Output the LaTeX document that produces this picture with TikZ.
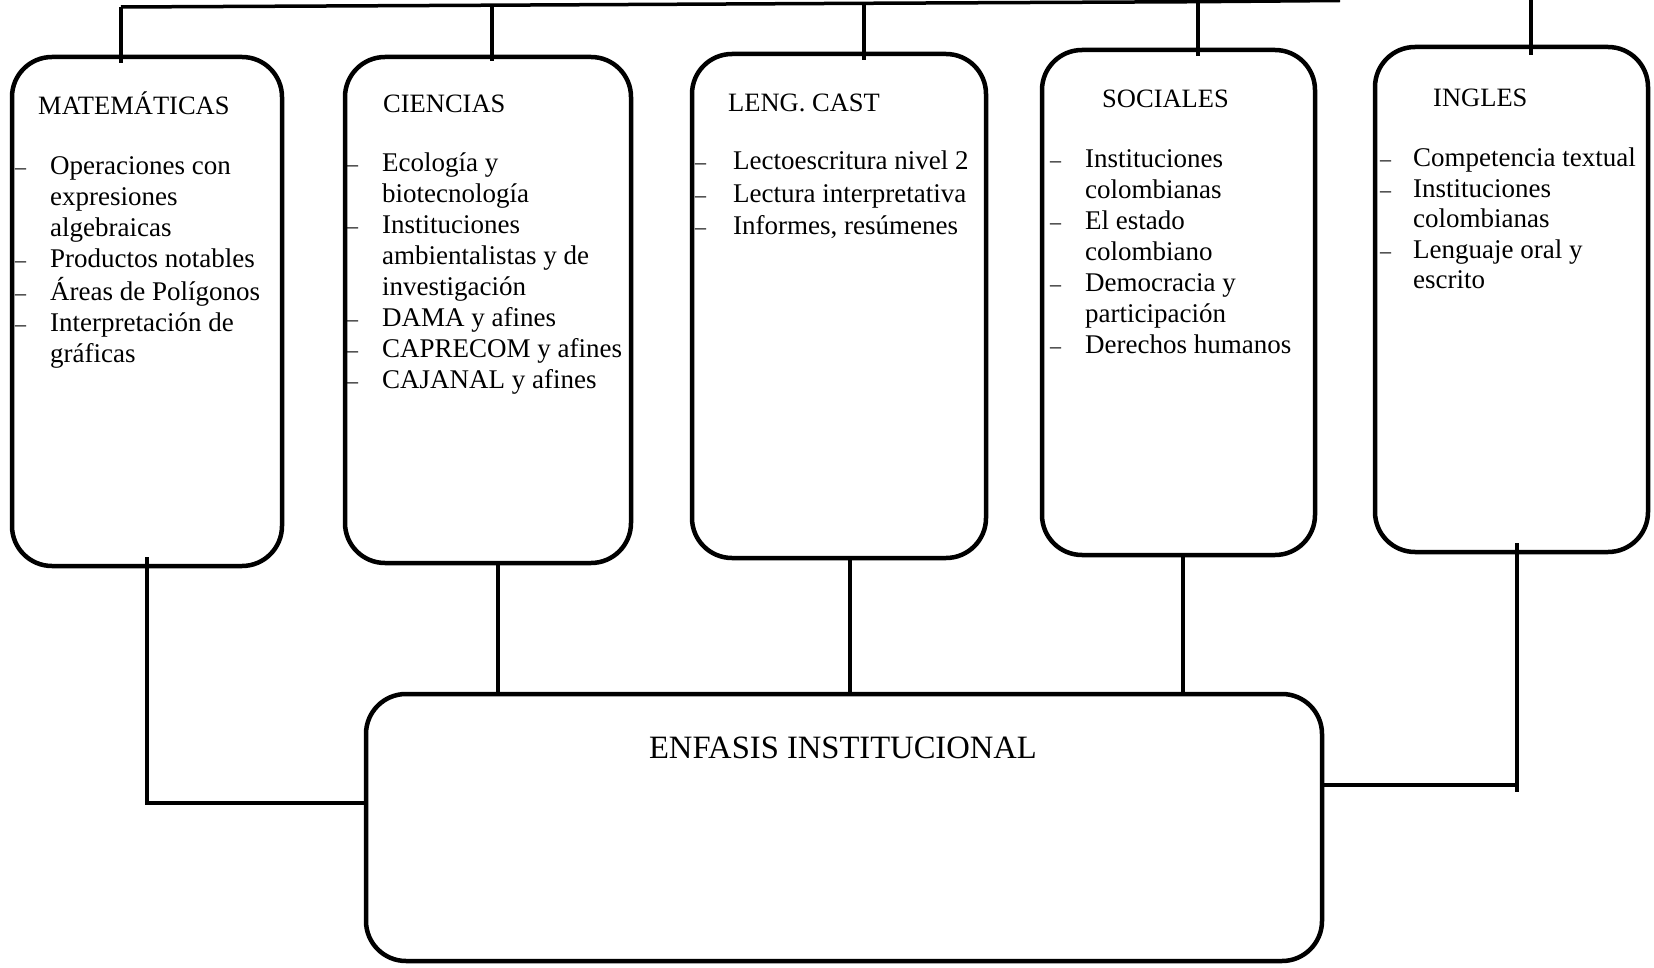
\documentclass[tikz,border=0pt]{standalone}
\usepackage{fontspec}
\setmainfont{Liberation Serif}
\newcommand{\mydash}{{\fontsize{22}{22}\selectfont –}}
\begin{document}
\begin{tikzpicture}[x=1pt,y=-1pt,
  box/.style={draw, line width=4.5pt, rounded corners=40pt, inner sep=0pt, outer sep=0pt},
  conn/.style={line width=4pt},
  bus/.style={line width=3.5pt},
  ttl/.style={anchor=base west, inner sep=0pt, font=\fontsize{26.5}{31}\selectfont},
  lst/.style={anchor=base west, inner sep=0pt, font=\fontsize{27}{31}\selectfont, align=left},
  bigttl/.style={anchor=base, inner sep=0pt, font=\fontsize{32.6}{38}\selectfont}]
\useasboundingbox (0,0) rectangle (1654,968);
\fill[white] (0,0) rectangle (1654,968);

% boxes
\node[box, minimum width=270pt, minimum height=509pt] (mat) at (147,311.5) {};
\node[box, minimum width=286pt, minimum height=506pt] (cie) at (488,310) {};
\node[box, minimum width=294pt, minimum height=504pt] (len) at (839,306) {};
\node[box, minimum width=273pt, minimum height=505pt] (soc) at (1178.5,302.5) {};
\node[box, minimum width=273pt, minimum height=505pt] (ing) at (1511.5,299.5) {};
\node[box, minimum width=956pt, minimum height=267pt] (enf) at (844,827.5) {};

% titles
\node[ttl] (tmat) at (38,115) {MATEMÁTICAS};
\node[ttl] (tcie) at (383,113) {CIENCIAS};
\node[ttl] (tlen) at (728,112) {LENG. CAST};
\node[ttl] (tsoc) at (1102,108) {SOCIALES};
\node[ttl] (ting) at (1433,107) {INGLES};
\node[bigttl] (tenf) at (843,758) {ENFASIS INSTITUCIONAL};

% lists
\node[lst] (lmat) at (15,175) {\begin{tabular}[t]{@{}p{35pt}@{}l@{}}
\mydash & Operaciones con\\
 & expresiones\\
 & algebraicas\\
\mydash & Productos notables\\
\mydash & Áreas de Polígonos\\
\mydash & Interpretación de\\
 & gráficas
\end{tabular}};
\node[lst] (lcie) at (347,172) {\begin{tabular}[t]{@{}p{35pt}@{}l@{}}
\mydash & Ecología y\\
 & biotecnología\\
\mydash & Instituciones\\
 & ambientalistas y de\\
 & investigación\\
\mydash & DAMA y afines\\
\mydash & CAPRECOM y afines\\
\mydash & CAJANAL y afines
\end{tabular}};
\node[lst] (llen) at (695,170) {\renewcommand{\arraystretch}{1.04}\begin{tabular}[t]{@{}p{38pt}@{}l@{}}
\mydash & Lectoescritura nivel 2\\
\mydash & Lectura interpretativa\\
\mydash & Informes, resúmenes
\end{tabular}};
\node[lst] (lsoc) at (1050,168) {\begin{tabular}[t]{@{}p{35pt}@{}l@{}}
\mydash & Instituciones\\
 & colombianas\\
\mydash & El estado\\
 & colombiano\\
\mydash & Democracia y\\
 & participación\\
\mydash & Derechos humanos
\end{tabular}};
\node[lst] (ling) at (1380,167) {\renewcommand{\arraystretch}{0.98}\begin{tabular}[t]{@{}p{33pt}@{}l@{}}
\mydash & Competencia textual\\
\mydash & Instituciones\\
 & colombianas\\
\mydash & Lenguaje oral y\\
 & escrito
\end{tabular}};

% top bus
\coordinate (b1) at (121,7);
\coordinate (b2) at (492,5.2);
\coordinate (b3) at (864,3.3);
\coordinate (b4) at (1198,1.7);
\coordinate (bend) at (1340,0.5);
\coordinate (b5) at (1531,-2);
\draw[bus] (b1) -- (b2) -- (b3) -- (b4) -- (bend);
\draw[conn] (b1) -- ([yshift=-6pt]b1 |- mat.north);
\draw[conn] (b2) -- ([yshift=-4pt]b2 |- cie.north);
\draw[conn] (b3) -- ([yshift=-6pt]b3 |- len.north);
\draw[conn] (b4) -- ([yshift=-6pt]b4 |- soc.north);
\draw[conn] (b5) -- ([yshift=-8pt]b5 |- ing.north);

% bottom connectors
\coordinate (mj) at (147,803);
\coordinate (c2) at (498,0);
\coordinate (c3) at (850,0);
\coordinate (c4) at (1183,0);
\coordinate (ij) at (1517,785);
\draw[conn] ([yshift=9pt]mat.south) -- (mj) -- (mj -| enf.west);
\draw[conn] (cie.south -| c2) -- (enf.north -| c2);
\draw[conn] (len.south -| c3) -- (enf.north -| c3);
\draw[conn] (soc.south -| c4) -- (enf.north -| c4);
\draw[conn] ([yshift=9pt]ing.south -| ij) -- ([yshift=-7pt]ij);
\draw[conn] (enf.east |- ij) -- (ij);
\end{tikzpicture}
\end{document}
